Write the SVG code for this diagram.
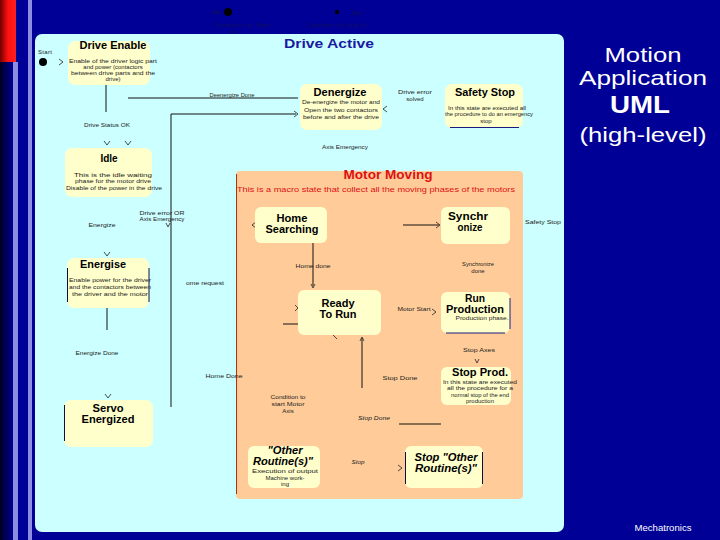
<svg xmlns="http://www.w3.org/2000/svg" width="720" height="540" viewBox="0 0 720 540">
<defs>
<linearGradient id="edge" x1="0" y1="0" x2="1" y2="0">
<stop offset="0" stop-color="#000020"/><stop offset="1" stop-color="#000096"/>
</linearGradient>
<linearGradient id="red" x1="0" y1="0" x2="1" y2="0">
<stop offset="0" stop-color="#700000"/><stop offset="0.5" stop-color="#ff1010"/><stop offset="1" stop-color="#ff2020"/>
</linearGradient>
<marker id="arr" viewBox="0 0 8 8" refX="7" refY="4" markerWidth="6" markerHeight="6" orient="auto" markerUnits="userSpaceOnUse">
<path d="M1,1 L7,4 L1,7" fill="none" stroke="#222" stroke-width="1"/>
</marker>
<style>
text{font-family:"Liberation Sans",Arial,sans-serif}
.node{fill:#ffffcc}
.t{font-weight:bold;font-size:10px;fill:#000;text-anchor:middle}
.ti{font-weight:bold;font-style:italic;font-size:10px;fill:#000;text-anchor:middle}
.d{font-size:6px;fill:#222;text-anchor:middle}
.l{font-size:6px;fill:#222;text-anchor:middle}
.li{font-size:6px;font-style:italic;fill:#222;text-anchor:middle}
.dark{font-size:6px;fill:#101058;text-anchor:middle}
.ln{stroke:#111;stroke-width:1;fill:none}
.ah{stroke:#222;stroke-width:0.8;fill:none}
.side{stroke:#101040;stroke-width:1;fill:none}
.h{fill:#fff;text-anchor:middle}
</style>
</defs>

<!-- background -->
<rect x="0" y="0" width="720" height="540" fill="#000096"/>
<rect x="0" y="0" width="13" height="540" fill="url(#edge)"/>
<rect x="0" y="0" width="16" height="62" fill="url(#red)"/>
<rect x="13" y="62" width="5" height="478" fill="#8c8ce0"/>
<rect x="28" y="0" width="4" height="540" fill="#8c8ce0"/>

<!-- top start/end -->
<g id="top-start">
<text class="dark" x="217" y="14" textLength="10">Start</text>
<circle cx="228" cy="12" r="4" fill="#000"/>
<text class="dark" x="242" y="27" textLength="57">Condition for Start</text>
<text class="dark" x="234" y="34">(x)</text>
</g>
<g id="top-end">
<circle cx="337" cy="12" r="2.2" fill="#000"/>
<text class="dark" x="357" y="15" textLength="10">End</text>
<text class="dark" x="337" y="27" textLength="60">Condition for End (x)</text>
</g>

<!-- Drive Active panel -->
<g id="drive-active">
<rect x="35" y="34" width="529" height="498" rx="7" fill="#ccffff"/>
<text x="329" y="48" font-size="13" font-weight="bold" fill="#1a1aa0" text-anchor="middle" textLength="90" lengthAdjust="spacingAndGlyphs">Drive Active</text>
<text class="l" x="45" y="54" textLength="14">Start</text>
<circle cx="43" cy="62" r="4" fill="#000"/>
</g>

<!-- Motor Moving panel -->
<g id="motor-moving">
<rect x="236" y="171" width="287" height="328" rx="4" fill="#ffcc99"/>
<line x1="236.5" y1="174" x2="236.5" y2="494" stroke="#b03010" stroke-width="1"/>
<text x="388" y="179" font-size="12" font-weight="bold" fill="#dd1111" text-anchor="middle" textLength="89" lengthAdjust="spacingAndGlyphs">Motor Moving</text>
<text x="376" y="192" font-size="8" fill="#dd1111" text-anchor="middle" textLength="278" lengthAdjust="spacingAndGlyphs">This is a macro state that collect all the moving phases of the motors</text>
</g>

<!-- connectors -->
<g id="connectors">
<line class="ln" x1="48" y1="62" x2="62" y2="62" stroke-opacity="0"/>
<path class="ah" d="M59,59 L63,62 L59,65"/>
<line class="ln" x1="106" y1="85" x2="106" y2="112"/>
<path class="ah" d="M104,141 L107,145 L110,141"/>
<line class="ln" x1="128" y1="98" x2="298" y2="98"/>
<path class="ah" d="M125,141 L128,145 L131,141"/>
<polyline class="ln" points="171,407 171,114 296,114"/>
<path class="ah" d="M294,111 L298,114 L294,117"/>
<path class="ah" d="M387,106 L383,109 L387,112"/>
<path class="ah" d="M166,223 L168,227 L170,223"/>
<path class="ah" d="M104,252 L107,256 L110,252"/>
<line class="ln" x1="107" y1="308" x2="107" y2="330"/>
<path class="ah" d="M105,394 L108,398 L111,394"/>
<path class="ah" d="M256,222 L252,225 L256,228"/>
<line class="ln" x1="403" y1="225" x2="439" y2="225"/>
<path class="ah" d="M436,222 L440,225 L436,228"/>
<line class="ln" x1="313" y1="243" x2="313" y2="286"/>
<path class="ah" d="M311,284 L313,288 L315,284"/>
<line class="ln" x1="283" y1="324" x2="298" y2="324"/>
<path class="ah" d="M295,305 L298,308 L295,311"/>
<path class="ah" d="M333,335 L337,339"/>
<line class="ln" x1="362" y1="388" x2="362" y2="338"/>
<path class="ah" d="M360,341 L362,337 L364,341"/>
<path class="ah" d="M432,309 L436,312 L432,315"/>
<path class="ah" d="M475,359 L477,363 L479,359"/>
<line class="ln" x1="399" y1="424" x2="441" y2="424"/>
<path class="ah" d="M398,465 L402,468 L398,471"/>
</g>

<!-- nodes -->
<g id="drive-enable">
<rect class="node" x="68" y="41" width="82" height="44" rx="7"/>
<text class="t" x="113" y="49" textLength="67" lengthAdjust="spacingAndGlyphs">Drive Enable</text>
<text class="d" x="113" y="63" textLength="88" lengthAdjust="spacingAndGlyphs">Enable of the driver logic part</text>
<text class="d" x="113" y="69">and power (contactors</text>
<text class="d" x="113" y="75" textLength="84" lengthAdjust="spacingAndGlyphs">between drive parts and the</text>
<text class="d" x="113" y="81">drive)</text>
</g>

<g id="idle">
<rect class="node" x="65" y="148" width="87" height="49" rx="7"/>
<text class="t" x="109" y="162">Idle</text>
<text class="d" x="113" y="177" textLength="78" lengthAdjust="spacingAndGlyphs">This is the idle waiting</text>
<text class="d" x="113" y="183" textLength="76" lengthAdjust="spacingAndGlyphs">phase for the motor drive</text>
<text class="d" x="114" y="190" textLength="96" lengthAdjust="spacingAndGlyphs">Disable of the power in the drive</text>
</g>

<g id="denergize">
<rect class="node" x="300" y="84" width="82" height="46" rx="7"/>
<text class="t" x="340" y="96" textLength="53" lengthAdjust="spacingAndGlyphs">Denergize</text>
<text class="d" x="341" y="104" textLength="78" lengthAdjust="spacingAndGlyphs">De-energize the motor and</text>
<text class="d" x="341" y="112" textLength="74" lengthAdjust="spacingAndGlyphs">Open the two contactors</text>
<text class="d" x="341" y="119" textLength="76" lengthAdjust="spacingAndGlyphs">before and after the drive</text>
</g>

<g id="safety-stop">
<rect class="node" x="445" y="84" width="78" height="44" rx="7"/>
<line x1="450" y1="127.5" x2="519" y2="127.5" stroke="#1a1a80" stroke-width="1"/>
<text class="t" x="485" y="96" textLength="60" lengthAdjust="spacingAndGlyphs">Safety Stop</text>
<text class="d" x="487" y="110" textLength="78" lengthAdjust="spacingAndGlyphs">In this state are executed all</text>
<text class="d" x="489" y="116" textLength="88" lengthAdjust="spacingAndGlyphs">the procedure to do an emergency</text>
<text class="d" x="486" y="123">stop</text>
</g>

<g id="energise">
<rect class="node" x="67" y="258" width="82" height="50" rx="7"/>
<line class="side" x1="67.5" y1="268" x2="67.5" y2="302"/>
<line class="side" x1="149" y1="268" x2="149" y2="302"/>
<text class="t" x="103" y="268" textLength="46" lengthAdjust="spacingAndGlyphs">Energise</text>
<text class="d" x="110" y="282" textLength="82" lengthAdjust="spacingAndGlyphs">Enable power for the driver</text>
<text class="d" x="110" y="289" textLength="82" lengthAdjust="spacingAndGlyphs">and the contactors between</text>
<text class="d" x="110" y="296" textLength="76" lengthAdjust="spacingAndGlyphs">the driver and the motor</text>
</g>

<g id="servo-energized">
<rect class="node" x="64" y="400" width="89" height="47" rx="7"/>
<line class="side" x1="64.5" y1="405" x2="64.5" y2="441"/>
<text class="t" x="108" y="412" textLength="31" lengthAdjust="spacingAndGlyphs">Servo</text>
<text class="t" x="108" y="423" textLength="53" lengthAdjust="spacingAndGlyphs">Energized</text>
</g>

<g id="home-searching">
<rect class="node" x="255" y="207" width="72" height="36" rx="6"/>
<text class="t" x="292" y="222" textLength="31" lengthAdjust="spacingAndGlyphs">Home</text>
<text class="t" x="292" y="233" textLength="53" lengthAdjust="spacingAndGlyphs">Searching</text>
</g>

<g id="synchronize">
<rect class="node" x="441" y="207" width="69" height="37" rx="6"/>
<text class="t" x="468" y="220" textLength="40" lengthAdjust="spacingAndGlyphs">Synchr</text>
<text class="t" x="470" y="231" textLength="25" lengthAdjust="spacingAndGlyphs">onize</text>
</g>

<g id="ready-to-run">
<rect class="node" x="298" y="290" width="83" height="45" rx="6"/>
<text class="t" x="338" y="307" textLength="33" lengthAdjust="spacingAndGlyphs">Ready</text>
<text class="t" x="338" y="318" textLength="37" lengthAdjust="spacingAndGlyphs">To Run</text>
</g>

<g id="run-production">
<rect class="node" x="441" y="292" width="69" height="41" rx="6"/>
<line x1="510" y1="298" x2="510" y2="329" stroke="#1a1a80" stroke-width="1"/>
<line x1="446" y1="333" x2="505" y2="333" stroke="#1a1a80" stroke-width="1"/>
<text class="t" x="475" y="302" textLength="20" lengthAdjust="spacingAndGlyphs">Run</text>
<text class="t" x="475" y="313" textLength="58" lengthAdjust="spacingAndGlyphs">Production</text>
<text class="d" x="482" y="320" textLength="53" lengthAdjust="spacingAndGlyphs">Production phase.</text>
</g>

<g id="stop-prod">
<rect class="node" x="441" y="367" width="70" height="38" rx="6"/>
<text class="t" x="480" y="376" textLength="56" lengthAdjust="spacingAndGlyphs">Stop Prod.</text>
<text class="d" x="480" y="384" textLength="74" lengthAdjust="spacingAndGlyphs">In this state are executed</text>
<text class="d" x="480" y="390" textLength="66" lengthAdjust="spacingAndGlyphs">all the procedure for a</text>
<text class="d" x="480" y="397" textLength="58" lengthAdjust="spacingAndGlyphs">normal stop of the end</text>
<text class="d" x="480" y="403">production</text>
</g>

<g id="other-routines">
<rect class="node" x="248" y="446" width="72" height="42" rx="6"/>
<text class="ti" x="285" y="454" textLength="35" lengthAdjust="spacingAndGlyphs">"Other</text>
<text class="ti" x="283" y="465" textLength="60" lengthAdjust="spacingAndGlyphs">Routine(s)"</text>
<text class="d" x="285" y="473" textLength="66" lengthAdjust="spacingAndGlyphs">Execution of output</text>
<text class="d" x="285" y="480">Machine work-</text>
<text class="d" x="285" y="486">ing</text>
</g>

<g id="stop-other-routines">
<rect class="node" x="405" y="446" width="78" height="42" rx="6"/>
<line class="side" x1="405.5" y1="452" x2="405.5" y2="484"/>
<line class="side" x1="482.5" y1="452" x2="482.5" y2="484"/>
<text class="ti" x="446" y="461" textLength="63" lengthAdjust="spacingAndGlyphs">Stop "Other</text>
<text class="ti" x="446" y="472" textLength="62" lengthAdjust="spacingAndGlyphs">Routine(s)"</text>
</g>

<!-- connector labels -->
<g id="labels">
<text class="l" x="232" y="97" textLength="45" lengthAdjust="spacingAndGlyphs">Deenergize Done</text>
<text class="l" x="107" y="127" textLength="46" lengthAdjust="spacingAndGlyphs">Drive Status OK</text>
<text class="l" x="415" y="94" textLength="34" lengthAdjust="spacingAndGlyphs">Drive error</text>
<text class="l" x="415" y="101">solved</text>
<text class="l" x="345" y="149" textLength="46" lengthAdjust="spacingAndGlyphs">Axis Emergency</text>
<text class="l" x="162" y="215" textLength="45" lengthAdjust="spacingAndGlyphs">Drive error OR</text>
<text class="l" x="162" y="221" textLength="45" lengthAdjust="spacingAndGlyphs">Axis Emergency</text>
<text class="l" x="102" y="227" textLength="27" lengthAdjust="spacingAndGlyphs">Energize</text>
<text class="l" x="205" y="285" textLength="38" lengthAdjust="spacingAndGlyphs">ome request</text>
<text class="l" x="97" y="355" textLength="43" lengthAdjust="spacingAndGlyphs">Energize Done</text>
<text class="l" x="224" y="378" textLength="37" lengthAdjust="spacingAndGlyphs">Home Done</text>
<text class="l" x="313" y="268" textLength="35" lengthAdjust="spacingAndGlyphs">Home done</text>
<text class="l" x="543" y="224" textLength="36" lengthAdjust="spacingAndGlyphs">Safety Stop</text>
<text class="l" x="478" y="266" textLength="32" lengthAdjust="spacingAndGlyphs">Synchronize</text>
<text class="l" x="478" y="273">done</text>
<text class="l" x="414" y="311" textLength="33" lengthAdjust="spacingAndGlyphs">Motor Start</text>
<text class="l" x="479" y="352" textLength="32" lengthAdjust="spacingAndGlyphs">Stop Axes</text>
<text class="l" x="400" y="380" textLength="35" lengthAdjust="spacingAndGlyphs">Stop Done</text>
<text class="l" x="288" y="399" textLength="35" lengthAdjust="spacingAndGlyphs">Condition to</text>
<text class="l" x="288" y="406" textLength="33" lengthAdjust="spacingAndGlyphs">start Motor</text>
<text class="l" x="288" y="413">Axis</text>
<text class="li" x="374" y="420" textLength="32" lengthAdjust="spacingAndGlyphs">Stop Done</text>
<text class="li" x="358" y="464" textLength="13" lengthAdjust="spacingAndGlyphs">Stop</text>
</g>

<!-- heading -->
<g id="heading">
<text class="h" x="643" y="62" font-size="21" textLength="77" lengthAdjust="spacingAndGlyphs">Motion</text>
<text class="h" x="643" y="85" font-size="21" textLength="128" lengthAdjust="spacingAndGlyphs">Application</text>
<text class="h" x="640" y="113" font-size="24" font-weight="bold" textLength="60" lengthAdjust="spacingAndGlyphs">UML</text>
<text class="h" x="643" y="142" font-size="20" textLength="127" lengthAdjust="spacingAndGlyphs">(high-level)</text>
<text class="h" x="663" y="531" font-size="9" textLength="57" lengthAdjust="spacingAndGlyphs">Mechatronics</text>
</g>
</svg>
